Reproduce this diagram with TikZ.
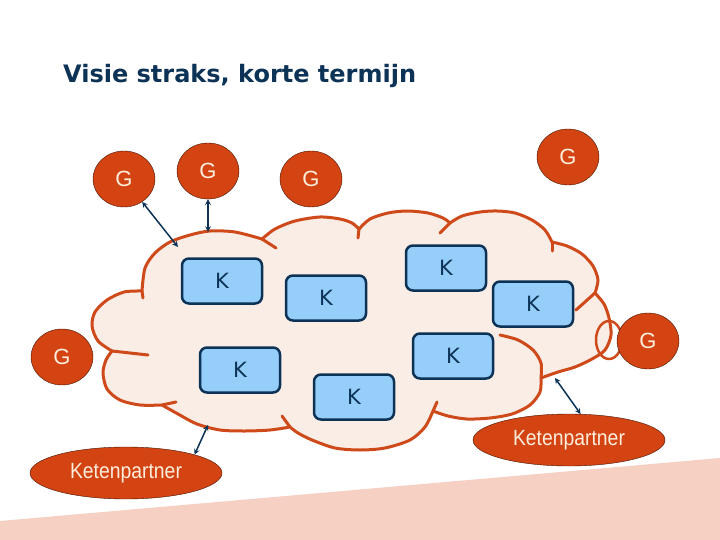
\documentclass[tikz,border=0pt]{standalone}
\usepackage{fontspec}
\setmainfont{Liberation Sans}
\newfontfamily\titlefont{DejaVu Sans}
\newfontfamily\narrowfont[FakeStretch=0.88]{Liberation Sans}
\usepackage{tikz}
\usetikzlibrary{shapes.geometric, arrows}
\definecolor{navy}{RGB}{12,50,86}
\definecolor{rust}{RGB}{212,67,18}
\definecolor{cloudorange}{RGB}{207,74,26}
\definecolor{cloudpeach}{RGB}{250,237,229}
\definecolor{kblue}{RGB}{150,206,250}
\definecolor{groundpink}{RGB}{245,208,195}
\definecolor{gtext}{RGB}{252,238,220}
\tikzstyle{gnode} = [ellipse, minimum width=62pt, minimum height=56pt, inner sep=0pt, fill=rust, draw=black!70!rust, text=gtext, font=\fontsize{22}{22}\selectfont]
\tikzstyle{knode} = [rectangle, rounded corners=7pt, minimum width=80pt, minimum height=45pt, fill=kblue, draw=navy, line width=2.5pt, text=navy, font=\titlefont\fontsize{21}{21}\selectfont]
\tikzstyle{partner} = [ellipse, minimum width=192pt, minimum height=52pt, inner sep=0pt, fill=rust, draw=black!70!rust, text=gtext, font=\narrowfont\fontsize{22}{22}\selectfont]
\tikzstyle{link} = [line width=1.5pt, <->, >=stealth, color=navy]
\tikzstyle{cloudline} = [draw=cloudorange, line width=3pt, line join=round, line cap=round]

\begin{document}
\begin{tikzpicture}[x=1pt, y=-1pt]
		\useasboundingbox (0,0) rectangle (720,540);
		\fill[groundpink] (0,521) -- (720,458) -- (720,540) -- (0,540) -- cycle;
		\node (title) [anchor=base west, inner sep=0pt, text=navy, font=\titlefont\bfseries\fontsize{24}{24}\selectfont] at (63,83) {Visie straks, korte termijn};
		% the cloud
		\draw[cloudline, fill=cloudpeach]
			plot[smooth] coordinates {(142,291) (145,268) (155,253) (170,242) (190,235) (210,231) (235,232) (262,239)}
			-- plot[smooth] coordinates {(262,239) (275,229) (295,221) (320,217) (340,219) (352,223) (359,229)}
			-- plot[smooth] coordinates {(359,229) (370,219) (388,213) (407,211) (428,213) (443,218) (450,223)}
			-- plot[smooth] coordinates {(450,223) (462,216) (480,212) (497,211) (515,213) (532,220) (545,230) (552,242)}
			-- plot[smooth] coordinates {(552,242) (567,246) (582,254) (593,266) (598,280) (595,293)}
			-- plot[smooth] coordinates {(595,293) (604,304) (609,318) (611,335) (605,350) (592,359) (575,367) (558,372) (541,378)}
			-- plot[smooth] coordinates {(541,378) (540,392) (530,405) (512,414) (490,418) (467,419) (448,416) (433,411)}
			-- plot[smooth] coordinates {(433,411) (425,427) (410,440) (385,448) (360,450) (335,448) (312,440) (298,433) (290,427)}
			-- plot[smooth] coordinates {(290,427) (270,430) (245,431) (220,430) (197,424) (178,414) (162,405)}
			-- plot[smooth] coordinates {(162,405) (140,405) (120,400) (107,389) (103,373) (106,360) (112,351)}
			-- plot[smooth] coordinates {(112,351) (98,341) (92,326) (95,312) (107,300) (124,292) (142,291)}
			-- cycle;
		\foreach \xa/\ya/\xb/\yb in {262/239/276/248, 359/229/358/238, 450/223/440/233, 552/242/552/251, 595/293/576/310, 433/411/437/402, 290/427/282/416, 162/405/176/402, 112/351/148/355, 142/291/143/298}
			\draw[cloudline] (\xa,\ya) -- (\xb,\yb);
		\draw[cloudline] plot[smooth] coordinates {(541,378) (541,363) (533,350) (518,340) (500,335)};
		\draw[cloudline, line width=2.5pt] (609,340) ellipse [x radius=13pt, y radius=19pt];
		% nodes
		\node (g1) [gnode] at (124,179) {G};
		\node (g2) [gnode] at (208,171) {G};
		\node (g3) [gnode] at (311,179) {G};
		\node (g4) [gnode] at (568,157) {G};
		\node (g5) [gnode] at (648,341) {G};
		\node (g6) [gnode] at (62,357) {G};
		\node (k1) [knode] at (222,281) {K};
		\node (k2) [knode] at (326,298) {K};
		\node (k3) [knode] at (446,268) {K};
		\node (k4) [knode] at (533,304) {K};
		\node (k5) [knode] at (453,356) {K};
		\node (k6) [knode] at (240,370) {K};
		\node (k7) [knode] at (354,397) {K};
		\node (kp1) [partner] at (126,473) {Ketenpartner};
		\node (kp2) [partner] at (569,440) {Ketenpartner};
		% links to the cloud
		\coordinate (e1) at (178,247);
		\coordinate (e2) at (208,232);
		\coordinate (e3) at (208,425);
		\coordinate (e4) at (555,378);
		\draw [link] (g1) -- (e1);
		\draw [link] (g2) -- (e2);
		\draw [link] (kp1.15) -- (e3);
		\draw [link] (kp2.66) -- (e4);
\end{tikzpicture}
\end{document}
